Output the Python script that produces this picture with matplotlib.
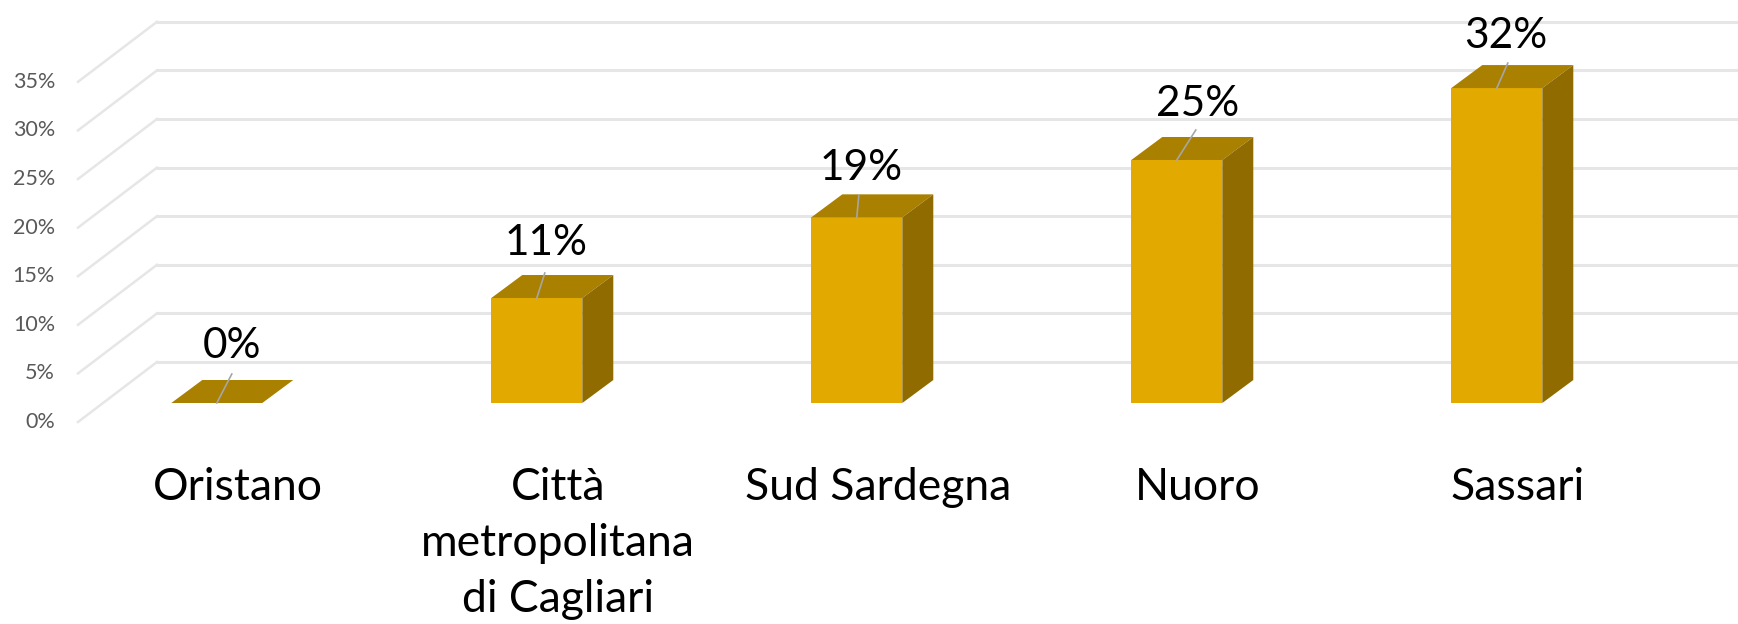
import matplotlib.pyplot as plt
from matplotlib.patches import Polygon

plt.rcParams['font.family'] = ['Lato', 'DejaVu Sans']

categories = ['Oristano', 'Città\nmetropolitana\ndi Cagliari', 'Sud Sardegna', 'Nuoro', 'Sassari']
values = [0, 10.8, 19.1, 25.0, 32.4]
y_ticks = [0, 5, 10, 15, 20, 25, 30, 35]

# layout, in pixels of the final picture
W, H = 1738, 624
px = 320          # pixels per category
py = 9.72         # pixels per percent
x0, y0 = 216.8, 403
bar_w = 91 / px
depth_x, depth_y = 31 / px, 23 / py
back = 41 / py
floor_x, floor_y = 79 / px, 60 / py
wall_x = (157 - x0) / px

label_dx = [15, 9, 4, 21, 9]
label_dy = [57, 55, 49, 56, 52]
leader_dx = [15, 8, 2, 19, 11]
leader_dy = [29, 25, 22, 30, 25]

front = '#E2AA00'
top = '#AA8000'
side = '#8F6B00'
grid = '#E6E6E6'

fig = plt.figure(figsize=(W / 100, H / 100), dpi=100)
ax = fig.add_axes([0, 0, 1, 1])
ax.set_xlim(-x0 / px, (W - x0) / px)
ax.set_ylim((y0 - H) / py, y0 / py)
ax.axis('off')

for v in y_ticks:
    ax.plot([wall_x, (W - x0) / px], [v + back, v + back], c=grid, lw=2.2, zorder=1)
    ax.plot([wall_x - floor_x, wall_x], [v + back - floor_y, v + back], c=grid, lw=1.8, zorder=1)
    ax.text((55 - x0) / px, v + back - floor_y, '%d%%' % v,
            ha='right', va='center', fontsize=15.5, color='#595959')

for i, v in enumerate(values):
    l, r = i - bar_w / 2, i + bar_w / 2
    ax.bar(i, v, width=bar_w, color=front, zorder=3)
    ax.add_patch(Polygon([(l, v), (r, v), (r + depth_x, v + depth_y), (l + depth_x, v + depth_y)],
                         facecolor=top, edgecolor='none', zorder=3))
    ax.add_patch(Polygon([(r, 0), (r + depth_x, depth_y), (r + depth_x, v + depth_y), (r, v)],
                         facecolor=side, edgecolor='none', zorder=3))
    ax.plot([i, i + leader_dx[i] / px], [v, v + leader_dy[i] / py], c='#A6A6A6', lw=1.2, zorder=4)
    ax.text(i + label_dx[i] / px, v + label_dy[i] / py, '%d%%' % round(v),
            ha='center', va='center', fontsize=30.5, color='black', zorder=5)
    ax.text(i + 21 / px, (y0 - 467) / py, categories[i],
            ha='center', va='top', fontsize=32, color='black', linespacing=1.46)

plt.savefig('out.png', dpi=100)
